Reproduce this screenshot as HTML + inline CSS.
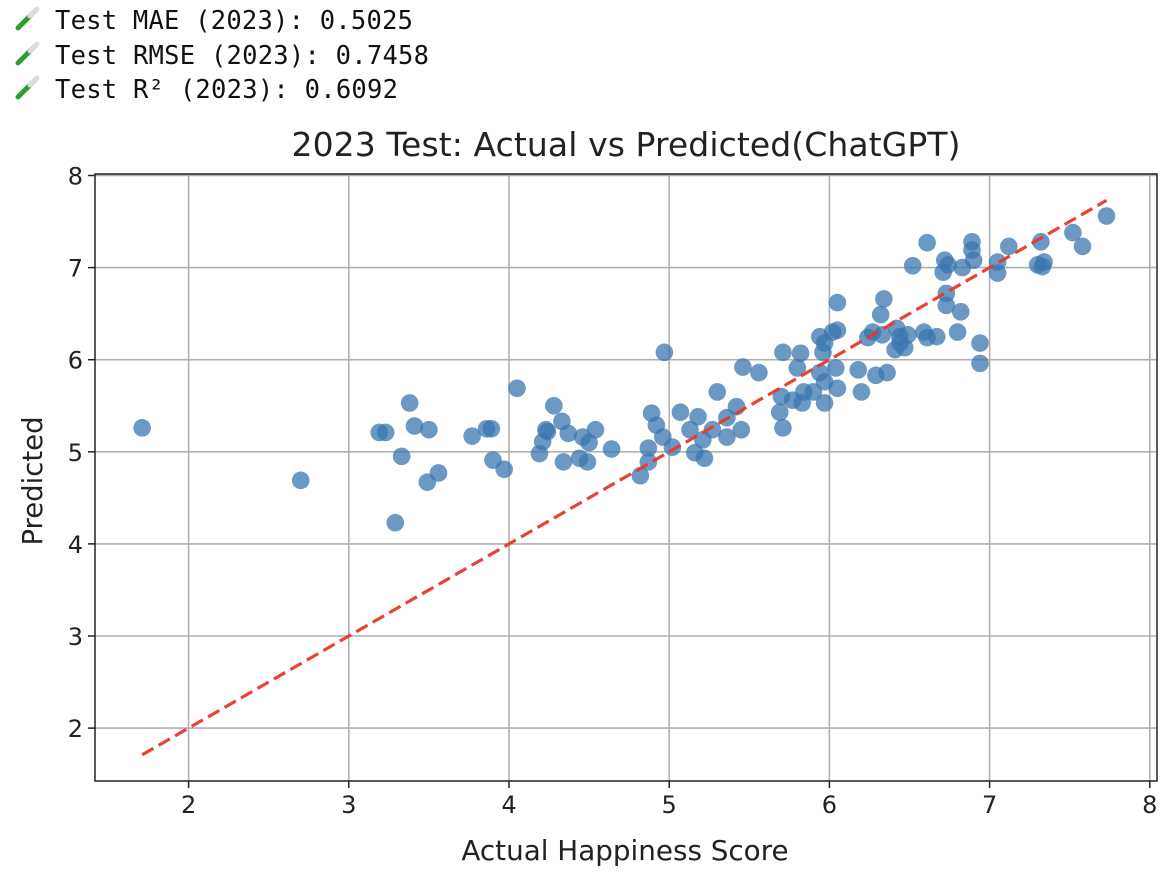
<!DOCTYPE html>
<html><head><meta charset="utf-8"><style>
html,body{margin:0;padding:0;background:#fff;width:1172px;height:884px;overflow:hidden}
svg{display:block}
</style></head><body>
<svg id="chart" width="1172" height="884" viewBox="0 0 1172 884" xmlns="http://www.w3.org/2000/svg">
  <g font-family="DejaVu Sans Mono, Liberation Mono, monospace" font-size="25.5" fill="#111">
    <g><line x1="18" y1="28" x2="36" y2="10" stroke="#2e9e2e" stroke-width="5" stroke-linecap="round"/><line x1="30" y1="16" x2="37" y2="9" stroke="#ddd" stroke-width="5" stroke-linecap="round"/></g>
    <g><line x1="18" y1="63" x2="36" y2="45" stroke="#2e9e2e" stroke-width="5" stroke-linecap="round"/><line x1="30" y1="51" x2="37" y2="44" stroke="#ddd" stroke-width="5" stroke-linecap="round"/></g>
    <g><line x1="18" y1="97" x2="36" y2="79" stroke="#2e9e2e" stroke-width="5" stroke-linecap="round"/><line x1="30" y1="85" x2="37" y2="78" stroke="#ddd" stroke-width="5" stroke-linecap="round"/></g>
    <text x="55" y="29" textLength="358">Test MAE (2023): 0.5025</text>
    <text x="55" y="64" textLength="374">Test RMSE (2023): 0.7458</text>
    <text x="55" y="98" textLength="343">Test R² (2023): 0.6092</text>
  </g>
  <text x="626" y="156" text-anchor="middle" textLength="669" font-family="DejaVu Sans, Liberation Sans, sans-serif" font-size="33" fill="#222">2023 Test: Actual vs Predicted(ChatGPT)</text>
  <g id="grid"></g>
  <g id="ticks" font-family="DejaVu Sans, Liberation Sans, sans-serif" font-size="24" fill="#222"></g>
  <g id="points"></g>
  <line id="refline" stroke="#e8392b" stroke-width="3.2" stroke-dasharray="13,6" opacity="0.95"/>
  <rect x="95" y="174" width="1062" height="607" fill="none" stroke="#222" stroke-width="1.5"/>
  <text x="625" y="860" text-anchor="middle" font-family="DejaVu Sans, Liberation Sans, sans-serif" font-size="27.8" fill="#222">Actual Happiness Score</text>
  <text transform="translate(42,481) rotate(-90)" text-anchor="middle" font-family="DejaVu Sans, Liberation Sans, sans-serif" font-size="27.5" fill="#222">Predicted</text>
</svg>
<script>
const actual = [1.71,2.70,3.19,3.23,3.38,3.41,3.50,3.33,3.29,3.49,3.56,3.77,3.86,3.89,3.90,3.97,4.05,4.28,4.33,4.23,4.24,4.21,4.19,4.37,4.34,4.44,4.49,4.46,4.50,4.54,4.64,
7.73,7.52,7.58,7.32,7.34,7.30,7.33,7.12,7.05,7.05,6.89,6.89,6.90,6.83,6.72,6.74,6.71,6.61,6.52,6.73,6.73,6.82,6.80,6.94,6.94,6.34,6.32,6.59,6.67,6.61,6.42,6.44,6.49,6.41,6.47,6.44,6.27,6.24,6.33,6.05,6.05,5.94,5.97,6.02,5.96,6.04,5.94,5.97,6.05,5.97,5.90,5.84,5.83,5.77,5.80,5.82,5.71,5.46,5.56,6.18,6.29,6.36,6.20,5.70,5.69,5.71,5.30,5.42,5.36,5.45,5.36,5.18,5.13,5.21,5.16,5.22,5.27,5.07,4.89,4.92,4.96,5.02,4.87,4.87,4.82,4.97];
const predicted = [5.26,4.69,5.21,5.21,5.53,5.28,5.24,4.95,4.23,4.67,4.77,5.17,5.25,5.25,4.91,4.81,5.69,5.50,5.33,5.24,5.22,5.11,4.98,5.20,4.89,4.93,4.89,5.16,5.10,5.24,5.03,
7.56,7.38,7.23,7.28,7.06,7.03,7.01,7.23,7.06,6.94,7.28,7.19,7.08,7.00,7.08,7.03,6.95,7.27,7.02,6.72,6.59,6.52,6.30,6.18,5.96,6.66,6.49,6.30,6.25,6.24,6.34,6.25,6.27,6.11,6.13,6.18,6.30,6.24,6.27,6.62,6.32,6.25,6.18,6.30,6.08,5.91,5.86,5.76,5.69,5.53,5.65,5.65,5.53,5.56,5.91,6.07,6.08,5.92,5.86,5.89,5.83,5.86,5.65,5.60,5.43,5.26,5.65,5.49,5.37,5.24,5.16,5.38,5.24,5.13,4.99,4.93,5.24,5.43,5.42,5.29,5.16,5.05,5.04,4.89,4.74,6.08];
const xTicks = [2,3,4,5,6,7,8];
const yTicks = [2,3,4,5,6,7,8];

const NS = 'http://www.w3.org/2000/svg';
const X0 = 95, X1 = 1157, Y0 = 174, Y1 = 781;
function sx(v){ return 188.6 + (v - 2) * 160.2; }
function sy(v){ return 728.1 - (v - 2) * 92.1; }

const grid = document.getElementById('grid');
const ticks = document.getElementById('ticks');
xTicks.forEach(t => {
  const gl = document.createElementNS(NS,'line');
  gl.setAttribute('x1', sx(t)); gl.setAttribute('x2', sx(t));
  gl.setAttribute('y1', Y0); gl.setAttribute('y2', Y1);
  gl.setAttribute('stroke', '#b0b0b0'); gl.setAttribute('stroke-width', '1.6');
  
  
  grid.appendChild(gl);
  const tk = document.createElementNS(NS,'line');
  tk.setAttribute('x1', sx(t)); tk.setAttribute('x2', sx(t));
  tk.setAttribute('y1', Y1); tk.setAttribute('y2', Y1 + 7);
  tk.setAttribute('stroke', '#222'); tk.setAttribute('stroke-width', '1.5');
  
  
  ticks.appendChild(tk);
  const tx = document.createElementNS(NS,'text');
  tx.setAttribute('x', sx(t)); tx.setAttribute('y', Y1 + 32);
  tx.setAttribute('text-anchor', 'middle');
  tx.textContent = t;
  
  
  ticks.appendChild(tx);
});
yTicks.forEach(t => {
  const gl = document.createElementNS(NS,'line');
  gl.setAttribute('x1', X0); gl.setAttribute('x2', X1);
  gl.setAttribute('y1', sy(t)); gl.setAttribute('y2', sy(t));
  gl.setAttribute('stroke', '#b0b0b0'); gl.setAttribute('stroke-width', '1.6');
  
  
  grid.appendChild(gl);
  const tk = document.createElementNS(NS,'line');
  tk.setAttribute('x1', X0 - 7); tk.setAttribute('x2', X0);
  tk.setAttribute('y1', sy(t)); tk.setAttribute('y2', sy(t));
  tk.setAttribute('stroke', '#222'); tk.setAttribute('stroke-width', '1.5');
  
  
  ticks.appendChild(tk);
  const tx = document.createElementNS(NS,'text');
  tx.setAttribute('x', X0 - 12); tx.setAttribute('y', sy(t) + 9);
  tx.setAttribute('text-anchor', 'end');
  tx.textContent = t;
  
  
  ticks.appendChild(tx);
});

const pts = document.getElementById('points');
actual.forEach((a, i) => {
  const c = document.createElementNS(NS,'circle');
  c.setAttribute('cx', sx(a)); c.setAttribute('cy', sy(predicted[i]));
  c.setAttribute('r', 8.8);
  c.setAttribute('fill', '#3a77b0'); c.setAttribute('fill-opacity', '0.75');
  
  
  pts.appendChild(c);
});

const mn = Math.min(...actual), mx = Math.max(...actual);
const rl = document.getElementById('refline');
rl.setAttribute('x1', sx(mn)); rl.setAttribute('y1', sy(mn));
rl.setAttribute('x2', sx(mx)); rl.setAttribute('y2', sy(mx));
</script>
</body></html>
